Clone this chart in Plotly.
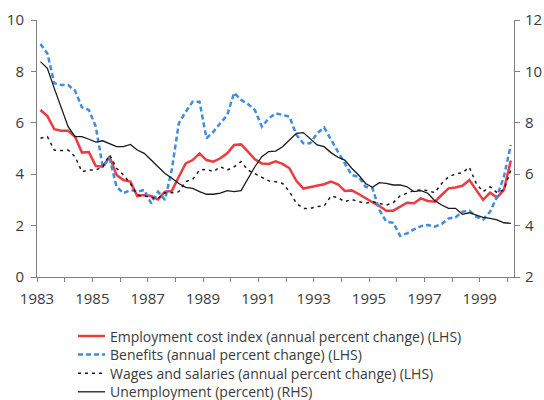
import plotly.graph_objects as go

# Quarterly data, 1983Q1 .. 2000Q1
start_year = 1983
n_quarters = 69

eci = [6.50, 6.26, 5.75, 5.69, 5.69, 5.46, 4.84, 4.86, 4.32, 4.29, 4.68, 3.97, 3.77, 3.71, 3.15, 3.19,
       3.15, 3.02, 3.32, 3.35, 3.90, 4.42, 4.55, 4.81, 4.55, 4.49, 4.62, 4.81, 5.14, 5.16, 4.88, 4.58,
       4.42, 4.40, 4.50, 4.40, 4.23, 3.74, 3.44, 3.49, 3.55, 3.61, 3.71, 3.61, 3.35, 3.37, 3.23, 3.06,
       2.91, 2.76, 2.58, 2.58, 2.74, 2.89, 2.87, 3.06, 2.96, 2.93, 3.19, 3.45, 3.48, 3.55, 3.77, 3.39,
       3.00, 3.28, 3.09, 3.39, 4.53]

benefits = [9.07, 8.70, 7.54, 7.47, 7.47, 7.25, 6.60, 6.50, 5.85, 4.29, 4.62, 3.51, 3.26, 3.39, 3.32, 3.39,
            2.87, 3.32, 3.00, 4.20, 5.98, 6.43, 6.82, 6.82, 5.40, 5.65, 5.98, 6.30, 7.17, 6.89, 6.73, 6.50,
            5.85, 6.17, 6.37, 6.30, 6.24, 5.53, 5.20, 5.20, 5.59, 5.82, 5.33, 4.88, 4.42, 3.97, 3.90, 3.51,
            3.45, 2.61, 2.15, 2.11, 1.60, 1.70, 1.85, 1.98, 2.02, 1.96, 2.06, 2.28, 2.32, 2.54, 2.58, 2.35,
            2.24, 2.54, 3.13, 3.90, 5.14]

wages = [5.40, 5.46, 4.94, 4.92, 4.94, 4.68, 4.10, 4.16, 4.16, 4.29, 4.75, 4.23, 3.97, 3.64, 3.19, 3.16,
         3.09, 3.06, 3.28, 3.28, 3.32, 3.71, 3.80, 4.16, 4.19, 4.10, 4.29, 4.16, 4.29, 4.49, 4.16, 4.03,
         3.90, 3.74, 3.71, 3.64, 3.32, 2.87, 2.67, 2.67, 2.74, 2.76, 3.15, 3.09, 2.93, 3.02, 2.93, 2.87,
         2.93, 2.87, 2.80, 2.89, 3.16, 3.26, 3.36, 3.39, 3.36, 3.28, 3.64, 3.90, 4.01, 4.06, 4.27, 3.64,
         3.32, 3.51, 3.28, 3.39, 4.16]

unemployment = [10.38, 10.12, 9.34, 8.56, 7.85, 7.46, 7.46, 7.36, 7.25, 7.30, 7.20, 7.07, 7.07, 7.16, 6.94, 6.81,
                6.55, 6.28, 6.03, 5.84, 5.64, 5.49, 5.45, 5.32, 5.22, 5.22, 5.26, 5.36, 5.32, 5.36, 5.84, 6.29,
                6.68, 6.88, 6.90, 7.07, 7.33, 7.59, 7.62, 7.36, 7.14, 7.07, 6.84, 6.66, 6.55, 6.23, 5.97, 5.64,
                5.49, 5.67, 5.64, 5.58, 5.58, 5.51, 5.32, 5.36, 5.26, 4.97, 4.80, 4.67, 4.67, 4.44, 4.50, 4.41,
                4.32, 4.28, 4.22, 4.11, 4.09]

tick_years = list(range(1983, 2001))
tick_labels = [str(y) if y % 2 == 1 and y < 2000 else "" for y in tick_years]

names = ["Employment cost index (annual percent change) (LHS)",
         "Benefits (annual percent change) (LHS)",
         "Wages and salaries (annual percent change) (LHS)",
         "Unemployment (percent) (RHS)"]

x = [start_year + (i + 0.5) / 4 for i in range(n_quarters)]

FONT = "Open Sans"
TXT = "#3a3a3a"
AX = "#808080"

styles = [dict(color="#ee3a40", width=2.5),
          dict(color="#3f8ddb", width=2.5, dash="5px,3px"),
          dict(color="#1a1a1a", width=1.5, dash="3px,4px"),
          dict(color="#1a1a1a", width=1.3)]

fig = go.Figure()
fig.add_trace(go.Scatter(x=x, y=eci, name=names[0], mode="lines", line=styles[0]))
fig.add_trace(go.Scatter(x=x, y=benefits, name=names[1], mode="lines", line=styles[1]))
fig.add_trace(go.Scatter(x=x, y=wages, name=names[2], mode="lines", line=styles[2]))
fig.add_trace(go.Scatter(x=x, y=unemployment, name=names[3], mode="lines", yaxis="y2", line=styles[3]))

# Custom legend below the plot (paper coordinates)
L, R, T, B = 37, 30, 20, 123
W, H = 544 - L - R, 400 - T - B
def px_x(p):
    return (p - L) / W
def px_y(p):
    return (400 - B - p) / H

row_y = [336, 354.6, 373.2, 391.8]
for name, st, ry in zip(names, styles, row_y):
    fig.add_shape(type="line", xref="paper", yref="paper",
                  x0=px_x(78), x1=px_x(105), y0=px_y(ry), y1=px_y(ry),
                  line=st)
    fig.add_annotation(text=name, xref="paper", yref="paper",
                       x=px_x(108), y=px_y(ry), xanchor="left", yanchor="middle",
                       showarrow=False, font=dict(family=FONT, size=14, color=TXT))

fig.update_layout(
    width=544, height=400,
    margin=dict(l=L, r=R, t=T, b=B, autoexpand=False),
    paper_bgcolor="white", plot_bgcolor="white",
    font=dict(family=FONT, size=15, color=TXT),
    showlegend=False,
    xaxis=dict(range=[1983, 2000.24], tickvals=tick_years, ticktext=tick_labels,
               showgrid=False, zeroline=False, showline=True, linecolor=AX, linewidth=1,
               ticks="outside", ticklen=4, tickcolor=AX, ticklabelstandoff=4,
               tickfont=dict(family=FONT, size=15, color=TXT)),
    yaxis=dict(range=[0, 10], dtick=2, showgrid=False, zeroline=False,
               showline=True, linecolor=AX, linewidth=1,
               ticks="outside", ticklen=5, tickcolor=AX, ticklabelstandoff=4,
               tickfont=dict(family=FONT, size=15, color=TXT)),
    yaxis2=dict(range=[2, 12], dtick=2, overlaying="y", side="right",
                showgrid=False, zeroline=False, showline=True, linecolor=AX, linewidth=1,
                ticks="outside", ticklen=5, tickcolor=AX, ticklabelstandoff=2,
                tickfont=dict(family=FONT, size=15, color=TXT)),
)

fig.write_html("out.html", config={"displayModeBar": False},
               post_script="document.body.style.margin='0';document.body.style.overflow='hidden';")
